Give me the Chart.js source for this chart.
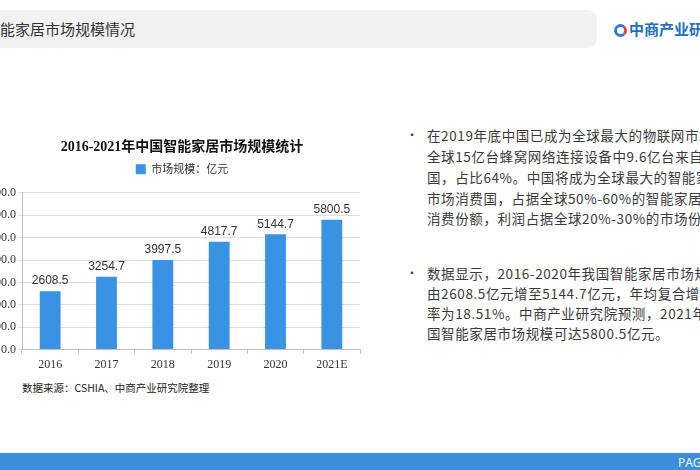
<!DOCTYPE html>
<html>
<head>
<meta charset="utf-8">
<script src="https://cdn.jsdelivr.net/npm/chart.js@4"></script>
<style>
  body{margin:0;width:700px;height:470px;overflow:hidden;background:#fff;position:relative;font-family:"Noto Sans CJK SC","Noto Sans",sans-serif;}
  #head{position:absolute;left:-20px;top:10px;width:617px;height:38px;background:#f2f2f2;border-radius:9px;}
  #head span{position:absolute;left:-25px;top:8px;font-size:15px;color:#333;white-space:nowrap;}
  #logo{position:absolute;left:614px;top:18px;white-space:nowrap;font-size:15px;font-weight:bold;color:#1f6fc4;}
  #logo i{display:inline-block;width:7px;height:7px;border:3px solid #2a7fd4;border-right-color:#e0443a;border-radius:50%;vertical-align:-2px;margin-right:2px;}
  #chartBox{position:absolute;left:-40px;top:133px;width:444px;height:243px;}
  #src{position:absolute;left:22px;top:380px;font-size:10.5px;color:#222;white-space:nowrap;}
  #txt{position:absolute;left:406px;top:0;font-size:13.5px;color:#3a3a3a;letter-spacing:0.6px;}
  #txt div{position:absolute;left:21px;white-space:nowrap;}
  #txt b{position:absolute;left:0;font-weight:normal;font-size:12px;}
  #foot{position:absolute;left:0;top:453px;width:700px;height:17px;background:#3a8fdc;}
  #foot span{position:absolute;left:678px;top:1px;color:#fff;font-size:12px;font-family:"Open Sans",sans-serif;}
</style>
</head>
<body>
<div id="head"><span>中国智能家居市场规模情况</span></div>
<div id="logo"><i></i>中商产业研究院</div>
<div id="chartBox"><canvas id="barChart"></canvas></div>
<div id="src">数据来源：CSHIA、中商产业研究院整理</div>
<div id="txt"></div>
<div id="foot"><span>PAGE</span></div>
<script>
const years = ['2016', '2017', '2018', '2019', '2020', '2021E'];
const market_size = [2608.5, 3254.7, 3997.5, 4817.7, 5144.7, 5800.5];
const y_ticks = [0, 1000, 2000, 3000, 4000, 5000, 6000, 7000];
const series_name = '市场规模：亿元';
const chart_title = '2016-2021年中国智能家居市场规模统计';

const text_lines = [
    [125, '在2019年底中国已成为全球最大的物联网市场，', true],
    [146, '全球15亿台蜂窝网络连接设备中9.6亿台来自中'],
    [167, '国，占比64%。中国将成为全球最大的智能家居'],
    [188, '市场消费国，占据全球50%-60%的智能家居市场'],
    [208, '消费份额，利润占据全球20%-30%的市场份额。'],
    [263, '数据显示，2016-2020年我国智能家居市场规模', true],
    [283, '由2608.5亿元增至5144.7亿元，年均复合增长'],
    [303, '率为18.51%。中商产业研究院预测，2021年中'],
    [323, '国智能家居市场规模可达5800.5亿元。']
];

const txt = document.getElementById('txt');
text_lines.forEach(line => {
    const d = document.createElement('div');
    d.style.top = line[0] + 'px';
    d.textContent = line[1];
    txt.appendChild(d);
    if(line[2]){
        const b = document.createElement('b');
        b.style.top = (line[0] + 1) + 'px';
        b.textContent = '•';
        txt.appendChild(b);
    }
});

// value labels over the bars
const barLabels = {
    id: 'barLabels',
    afterDatasetsDraw(chart){
        const ctx = chart.ctx;
        const meta = chart.getDatasetMeta(0);
        ctx.save();
        ctx.font = '12px "Liberation Sans", sans-serif';
        ctx.fillStyle = '#333';
        ctx.textAlign = 'center';
        ctx.textBaseline = 'bottom';
        meta.data.forEach((bar, i) => {
            ctx.fillText(market_size[i].toFixed(1), bar.x, bar.y - 4);
        });
        ctx.restore();
    }
};

// a bit more room under the legend
const legendGap = {
    id: 'legendGap',
    beforeInit(chart){
        const fit = chart.legend.fit;
        chart.legend.fit = function(){
            fit.call(this);
            this.height += 8;
        };
    }
};

new Chart(document.getElementById('barChart'), {
    type: 'bar',
    data: {
        labels: years,
        datasets: [{
            label: series_name,
            data: market_size,
            backgroundColor: '#3a92e4',
            barPercentage: 0.37,
            categoryPercentage: 1
        }]
    },
    options: {
        responsive: true,
        maintainAspectRatio: false,
        animation: false,
        layout: {padding: {top: 2}},
        plugins: {
            title: {
                display: true,
                text: chart_title,
                color: '#111',
                font: {size: 14, weight: 'bold', family: '"Liberation Serif", "Noto Sans CJK SC", serif'},
                padding: {top: 4, bottom: 2}
            },
            legend: {
                labels: {
                    boxWidth: 10, boxHeight: 10,
                    color: '#333',
                    font: {size: 11, family: '"Noto Sans CJK SC", sans-serif'},
                    padding: 6
                }
            },
            tooltip: {enabled: false}
        },
        scales: {
            x: {
                grid: {drawOnChartArea: false, color: '#bfbfbf', tickLength: 4},
                border: {color: '#bfbfbf'},
                ticks: {color: '#333', font: {size: 12, family: '"Liberation Serif", serif'}, padding: 4}
            },
            y: {
                min: 0,
                max: 7000,
                afterBuildTicks: axis => { axis.ticks = y_ticks.map(v => ({value: v})); },
                afterFit: axis => { axis.width = 62; },
                grid: {color: '#dcdcdc', tickLength: 4},
                border: {color: '#bfbfbf'},
                ticks: {
                    color: '#333',
                    font: {size: 12, family: '"Liberation Serif", serif'},
                    padding: 2,
                    callback: v => v.toFixed(1)
                }
            },
            // empty right-hand axis, only reserves space so the title stays centred on the canvas
            spacer: {
                type: 'linear',
                position: 'right',
                grid: {display: false},
                border: {display: false},
                ticks: {display: false},
                afterFit: axis => { axis.width = 44; }
            }
        }
    },
    plugins: [barLabels, legendGap]
});
</script>
</body>
</html>
